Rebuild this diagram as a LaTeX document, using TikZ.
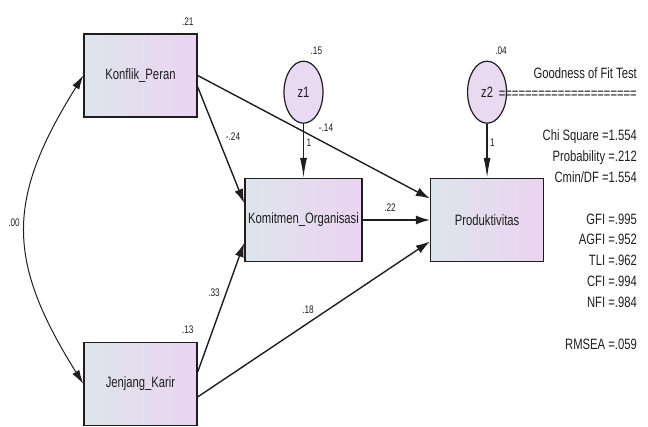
\documentclass[tikz,border=0pt]{standalone}
\usepackage{fontspec}
\setmainfont{Liberation Sans}[FakeStretch=0.75]
\usepackage{tikz}
\usetikzlibrary{shapes.geometric, arrows.meta, positioning}
\definecolor{boxleft}{RGB}{222,228,236}
\definecolor{boxright}{RGB}{235,212,241}
\definecolor{errfill}{RGB}{233,217,241}
\definecolor{ink}{RGB}{30,30,30}
\tikzstyle{varbox} = [rectangle, minimum width=113pt, minimum height=83pt, text centered, draw=ink, line width=1.4pt, left color=boxleft, right color=boxright, text=ink, font=\fontsize{15}{17}\selectfont]
\tikzstyle{errnode} = [ellipse, minimum width=39pt, minimum height=62pt, inner sep=0pt, draw=ink, line width=1.2pt, fill=errfill, text=ink, font=\fontsize{15}{17}\selectfont]
\tikzstyle{coeflabel} = [inner sep=0pt, text=ink, font=\fontsize{11}{13}\selectfont]
\tikzstyle{fittext} = [inner sep=0pt, align=right, text=ink, font=\fontsize{15}{20.85}\selectfont]
\tikzstyle{arrow} = [line width=1.4pt, draw=ink, -{Latex[length=14pt,width=9pt]}]
\tikzstyle{errarrow} = [line width=1.2pt, draw=ink, -{Latex[length=20pt,width=7pt]}]
\tikzstyle{covarrow} = [line width=1pt, draw=ink, {Latex[length=14pt,width=8pt]}-{Latex[length=14pt,width=8pt]}]

\begin{document}
\begin{tikzpicture}[x=1pt, y=1pt]
\useasboundingbox (0,0) rectangle (648,426);

% observed variables
\node (konflik) [varbox] at (140.5,350.5) {Konflik\_Peran};
\node (jenjang) [varbox, below=224pt of konflik] {Jenjang\_Karir};
\node (komitmen) [varbox] at (303.5,206) {Komitmen\_Organisasi};
\node (produk) [varbox, right=67pt of komitmen] {Produktivitas};

% residuals
\node (z1) [errnode, above=54pt of komitmen] {z1};
\node (z2) [errnode, above=54pt of produk] {z2};

% squared multiple correlations
\node (rkonflik) [coeflabel, above left=8pt and 4pt of konflik.north east] {.21};
\node (rjenjang) [coeflabel, above left=8pt and 4pt of jenjang.north east] {.13};
\node (rz1) [coeflabel, above right=6pt and 7pt of z1.north] {.15};
\node (rz2) [coeflabel, above right=6pt and 8pt of z2.north] {.04};

% paths
\draw [arrow] (konflik.east) -- ([yshift=21.5pt]produk.west);
\draw [arrow] ([yshift=-11.5pt]konflik.east) -- ([yshift=17pt]komitmen.west);
\draw [arrow] ([yshift=12pt]jenjang.east) -- ([yshift=-23pt]komitmen.west);
\draw [arrow] ([yshift=-13pt]jenjang.east) -- ([yshift=-21.5pt]produk.west);
\draw [arrow] (komitmen) -- (produk);
\draw [errarrow] (z1) -- node [coeflabel, pos=0.35, right=2.5pt] (wz1) {1} (komitmen);
\draw [errarrow] (z2) -- node [coeflabel, pos=0.35, right=2.5pt] (wz2) {1} (produk);
\draw [covarrow] (konflik.west) to[out=238, in=122, distance=146pt] (jenjang.west);

% estimates
\node (ckk) [coeflabel] at (233,289) {-.24};
\node (ckp) [coeflabel] at (326,298) {-.14};
\node (cjk) [coeflabel] at (214,133) {.33};
\node (cjp) [coeflabel] at (308,116) {.18};
\node (ckmp) [coeflabel] at (390,218) {.22};
\node (cov) [coeflabel] at (14,203) {.00};

% fit indices
\node (fit) [fittext, anchor=north east] at (637,359) {Goodness of Fit Test\\
=====================\\[20.85pt]
Chi Square =1.554\\
Probability =.212\\
Cmin/DF =1.554\\[20.85pt]
GFI =.995\\
AGFI =.952\\
TLI =.962\\
CFI =.994\\
NFI =.984\\[20.85pt]
RMSEA =.059};
\end{tikzpicture}
\end{document}
